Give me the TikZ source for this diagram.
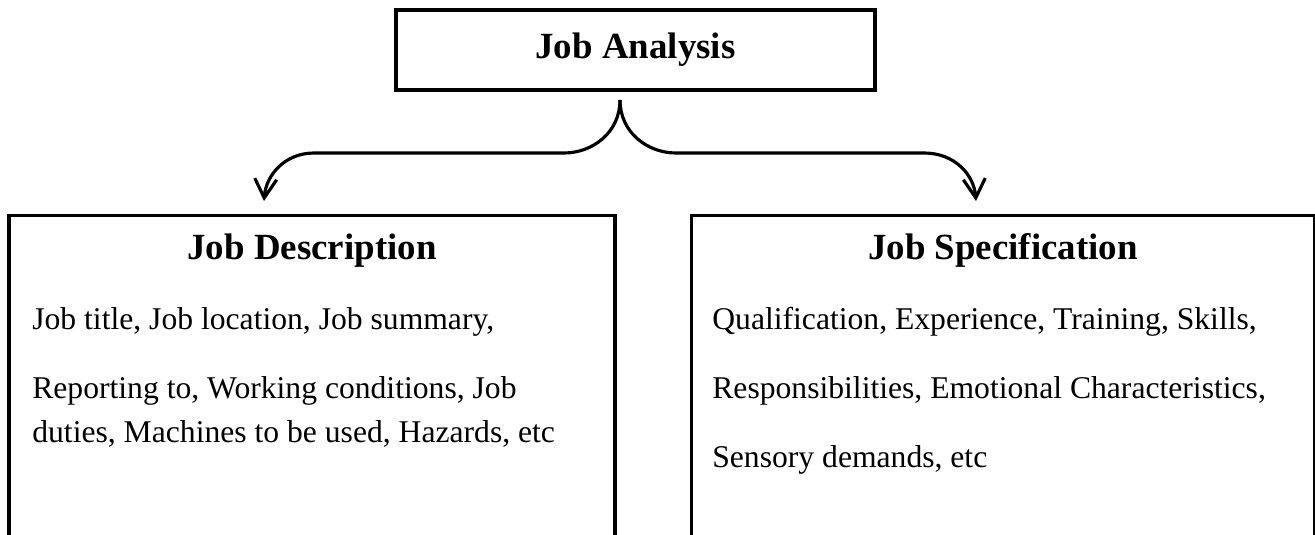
\documentclass[tikz,border=0pt]{standalone}
\usepackage{fontspec}
\setmainfont{Liberation Serif}
\usetikzlibrary{arrows.meta}

\begin{document}
\begin{tikzpicture}[align=left,
    box/.style={draw, line width=1.9pt, inner sep=0},
    head/.style={font=\fontsize{21}{25}\selectfont\bfseries, anchor=base},
    body/.style={font=\fontsize{18}{25}\selectfont, anchor=base west, inner sep=0},
    link/.style={line width=1.8pt, -{Straight Barb[length=3.8mm, width=4.4mm, line width=1.8pt]}}]
  \clip (0,0) rectangle (26.3,-10.68);

  \node[box, head, anchor=center, minimum width=9.58cm, minimum height=1.6cm] (JA) at (12.71,-1.0) {Job Analysis};
  \node[box, anchor=north, minimum width=12.12cm, minimum height=8cm] (JD) at (6.24,-4.28) {};
  \node[box, anchor=north west, minimum width=12.46cm, minimum height=8cm] (JS) at (13.8,-4.28) {};

  \node[head] (JDt) at (6.24,-5.18) {Job Description};
  \node[head] (JSt) at (20.06,-5.18) {Job Specification};

  \node[body] (JD1) at (0.64,-6.58) {Job title, Job location, Job summary,};
  % base of a two-line node is its last line
  \node[body] (JD2) at (0.64,-8.84) {Reporting to, Working conditions, Job\\duties, Machines to be used, Hazards, etc};
  \node[body] (JS1) at (14.24,-6.58) {Qualification, Experience, Training, Skills,};
  \node[body] (JS2) at (14.24,-7.96) {Responsibilities, Emotional Characteristics,};
  \node[body] (JS3) at (14.24,-9.34) {Sensory demands, etc};

  \coordinate (Br) at (12.4,-2.0);
  \coordinate (JDin) at (5.28,-4.02);
  \coordinate (JSin) at (19.52,-4.02);

  \draw[link] (Br) .. controls (12.4,-2.65) and (11.85,-3.06) .. (11.28,-3.06) -- (6.28,-3.06)
      .. controls (5.7,-3.06) and (5.32,-3.5) .. (JDin);
  \draw[link] (Br) .. controls (12.4,-2.65) and (12.95,-3.06) .. (13.52,-3.06) -- (18.48,-3.06)
      .. controls (19.1,-3.06) and (19.48,-3.5) .. (JSin);
\end{tikzpicture}
\end{document}
